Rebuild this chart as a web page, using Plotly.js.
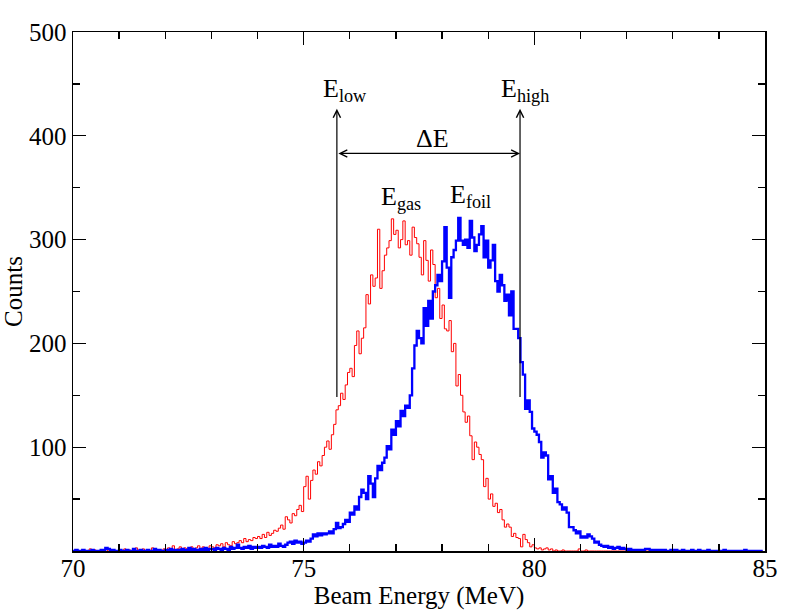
<!DOCTYPE html>
<html>
<head>
<meta charset="utf-8">
<script src="https://cdn.plot.ly/plotly-3.0.1.min.js"></script>
<style>html,body{margin:0;padding:0;background:#fff;}</style>
</head>
<body>
<div id="chart" style="width:792px;height:612px;"></div>
<script>
// Histogram bins: start energy (MeV) and bin width
const binStart = 70.0;
const binWidth = 0.05;

// E_gas spectrum (counts per bin), rows of 1 MeV (20 bins each), 70..85 MeV
const gasCounts = [
  0,1,0,0,1,0,0,2,0,1,0,0,1,0,2,0,0,1,0,0,
  1,0,2,0,1,0,0,3,1,0,2,0,1,0,3,2,0,1,0,2,
  1,3,2,5,1,2,4,1,3,2,1,4,2,3,5,2,4,3,1,5,
  4,3,6,5,7,4,8,6,5,9,7,8,10,8,12,9,11,10,13,12,
  14,12,16,13,18,15,17,20,19,22,25,21,33,30,27,36,34,40,44,38,
  62,72,50,68,78,74,86,82,92,100,106,98,112,122,136,140,152,146,160,172,
  176,168,198,212,190,205,215,247,238,266,255,263,310,253,270,285,292,299,320,305,
  309,292,300,318,295,299,285,312,302,296,283,266,299,280,260,290,276,244,253,224,
  237,214,212,222,192,200,159,170,150,134,124,130,111,88,105,100,93,88,62,70,
  50,55,43,46,37,40,30,23,26,23,14,17,13,12,4,16,11,8,4,6,
  3,2,3,1,2,3,1,2,0,1,0,0,1,0,0,0,0,0,0,2,
  0,0,1,0,0,0,0,0,0,0,0,0,0,0,0,0,0,0,0,0,
  0,0,0,0,0,0,0,0,0,0,0,0,0,0,0,0,0,0,0,0,
  0,0,0,0,0,0,0,0,0,0,0,0,0,0,0,0,0,0,0,0,
  0,0,0,0,0,0,0,0,0,0,0,0,0,0,0,0,0,0,0,0
];

// E_foil spectrum (counts per bin)
const foilCounts = [
  0,1,0,0,1,0,0,0,1,0,0,0,1,0,3,2,0,1,0,0,
  1,0,0,1,0,0,2,0,0,1,0,0,1,0,0,2,0,1,0,0,
  1,0,2,0,1,1,0,2,1,0,3,1,2,0,1,2,1,3,1,2,
  2,1,3,2,1,3,2,1,4,2,3,6,3,2,4,3,5,2,4,3,
  4,3,5,4,3,6,4,5,4,7,5,4,6,8,9,7,10,8,9,7,
  8,10,9,12,16,14,17,15,17,16,17,19,17,21,27,22,23,26,30,28,
  37,35,43,40,52,59,56,50,72,65,52,70,82,78,85,90,101,98,117,112,
  125,120,135,130,140,138,150,176,198,212,205,200,234,217,241,224,250,256,266,260,
  279,312,273,244,283,290,299,321,299,295,300,292,318,302,289,295,305,313,283,299,
  273,280,295,260,250,266,256,241,247,227,250,214,214,205,182,170,137,145,134,118,
  115,112,105,90,95,92,69,72,56,60,47,45,40,42,37,23,23,20,17,19,
  13,14,13,16,14,12,8,9,6,5,4,5,3,4,2,3,4,2,3,2,
  1,2,1,1,0,1,1,0,2,2,1,0,1,0,1,0,1,0,0,1,
  0,1,0,0,1,0,0,0,1,0,0,1,0,0,0,1,0,0,0,0,
  0,0,1,0,0,0,0,0,0,0,0,1,0,0,0,0,0,0,0,0
];

// Marker energies and labels
const eLow = 75.72;
const eHigh = 79.69;
const markerBottom = 147;
const markerTop = 426;
const deltaLevel = 383;
const xTicks = [70, 75, 80, 85];
const yTicks = [100, 200, 300, 400, 500];

function edges(n) {
  const e = [];
  for (let i = 0; i < n; i++) e.push(+(binStart + i * binWidth).toFixed(3));
  return e;
}

const serif = "'Liberation Serif', 'Times New Roman', Times, serif";

const traces = [
  {
    x: edges(gasCounts.length), y: gasCounts, type: 'scatter', mode: 'lines',
    line: {color: '#ff0000', width: 1, shape: 'hv'}, name: 'gas', hoverinfo: 'none'
  },
  {
    x: edges(foilCounts.length), y: foilCounts, type: 'scatter', mode: 'lines',
    line: {color: '#0000ff', width: 2.3, shape: 'hv'}, name: 'foil', hoverinfo: 'none'
  }
];

const arrowCommon = {
  xref: 'x', yref: 'y', axref: 'x', ayref: 'y', text: '', showarrow: true,
  arrowhead: 5, arrowsize: 1.2, arrowwidth: 1.2, arrowcolor: '#000'
};

const labelFont = {family: serif, size: 26, color: '#000'};

const layout = {
  width: 792, height: 612,
  margin: {l: 73, r: 27, t: 32, b: 61},
  paper_bgcolor: '#fff', plot_bgcolor: '#fff',
  showlegend: false,
  font: {family: serif, color: '#000'},
  xaxis: {
    range: [70, 85], tickmode: 'array', tickvals: xTicks, ticktext: xTicks.map(String),
    ticks: 'inside', ticklen: 13, tickwidth: 1.3, tickcolor: '#000',
    minor: {tickmode: 'array', tickvals: [71,72,73,74,76,77,78,79,81,82,83,84], ticklen: 7, tickwidth: 1.3, tickcolor: '#000', ticks: 'inside'},
    showline: true, linecolor: '#000', linewidth: 1.5, mirror: 'ticks',
    showgrid: false, zeroline: false,
    ticklabelstandoff: -6,
    tickfont: {family: serif, size: 25, color: '#000'},
    title: {text: 'Beam Energy (MeV)', font: {family: serif, size: 25, color: '#000'}, standoff: 2}
  },
  yaxis: {
    range: [0, 500], tickmode: 'array', tickvals: yTicks, ticktext: yTicks.map(String),
    ticks: 'inside', ticklen: 13, tickwidth: 1.3, tickcolor: '#000',
    minor: {tickmode: 'array', tickvals: [50,150,250,350,450], ticklen: 7, tickwidth: 1.3, tickcolor: '#000', ticks: 'inside'},
    showline: true, linecolor: '#000', linewidth: 1.5, mirror: 'ticks',
    showgrid: false, zeroline: false,
    tickfont: {family: serif, size: 25, color: '#000'},
    title: {text: 'Counts', font: {family: serif, size: 25, color: '#000'}, standoff: 4}
  },
  annotations: [
    Object.assign({}, arrowCommon, {x: eLow, y: markerTop, ax: eLow, ay: markerBottom}),
    Object.assign({}, arrowCommon, {x: eHigh, y: markerTop, ax: eHigh, ay: markerBottom}),
    Object.assign({}, arrowCommon, {x: eHigh, y: deltaLevel, ax: eLow, ay: deltaLevel, arrowside: 'end+start'}),
    {xref: 'x', yref: 'y', x: 75.9, y: 444, text: 'E<sub>low</sub>', showarrow: false, font: labelFont},
    {xref: 'x', yref: 'y', x: 79.8, y: 444, text: 'E<sub>high</sub>', showarrow: false, font: labelFont},
    {xref: 'x', yref: 'y', x: 77.8, y: 397, text: '\u0394E', showarrow: false, font: labelFont},
    {xref: 'x', yref: 'y', x: 77.1, y: 340, text: 'E<sub>gas</sub>', showarrow: false, font: labelFont},
    {xref: 'x', yref: 'y', x: 78.62, y: 342, text: 'E<sub>foil</sub>', showarrow: false, font: labelFont}
  ]
};

Plotly.newPlot('chart', traces, layout, {staticPlot: true, displayModeBar: false});
</script>
</body>
</html>
